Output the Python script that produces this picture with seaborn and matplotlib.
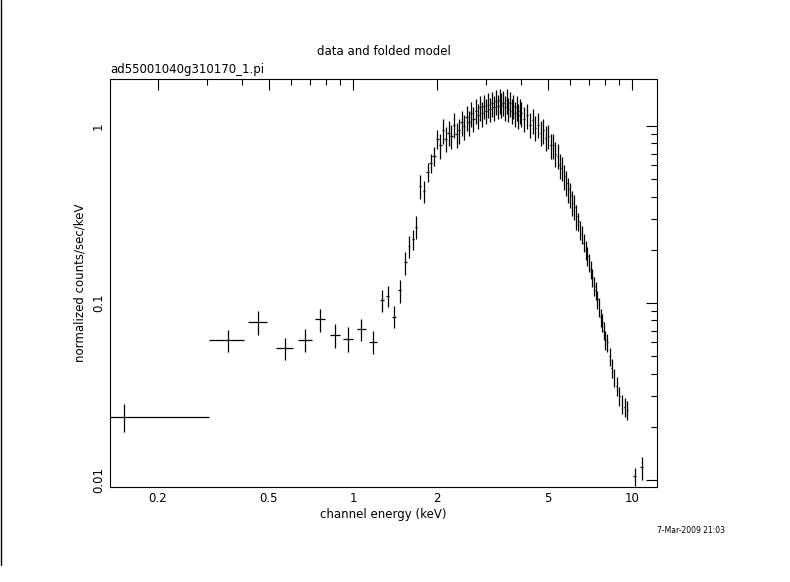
import matplotlib
matplotlib.use("Agg")
import matplotlib.pyplot as plt
import seaborn as sns
import numpy as np

# low-energy channels: centre, left/right half-widths, value, error
low_e    = [0.151, 0.356, 0.457, 0.57, 0.673, 0.762, 0.862, 0.96, 1.07, 1.18, 1.27, 1.33, 1.40, 1.47, 1.54, 1.59, 1.64, 1.68, 1.74, 1.80]
low_dl   = [0.06, 0.05, 0.035, 0.04, 0.04, 0.03, 0.035, 0.04, 0.04, 0.04, 0.02, 0.02, 0.02, 0.02, 0.015, 0.015, 0.015, 0.015, 0.015, 0.015]
low_dr   = [0.154, 0.05, 0.035, 0.04, 0.04, 0.03, 0.035, 0.04, 0.04, 0.04, 0.02, 0.02, 0.02, 0.02, 0.015, 0.015, 0.015, 0.015, 0.015, 0.015]
low_y    = [0.0228, 0.0618, 0.078, 0.0557, 0.062, 0.081, 0.066, 0.063, 0.071, 0.0603, 0.104, 0.11, 0.084, 0.118, 0.17, 0.21, 0.23, 0.27, 0.46, 0.43]
low_err  = [0.004, 0.009, 0.012, 0.008, 0.009, 0.012, 0.01, 0.01, 0.01, 0.009, 0.015, 0.015, 0.012, 0.018, 0.025, 0.03, 0.03, 0.04, 0.07, 0.06]

mid_e = [1.85,1.90,1.95,2.00,2.05,2.10,2.15,2.20,2.25,2.30,2.35,2.40,2.45,2.50,2.55,2.60,2.65,2.70,2.75,2.80,
         2.85,2.90,2.95,3.00,3.05,3.10,3.15,3.20,3.25,3.30,3.35,3.40,3.45,3.50,3.55,3.60,3.65,3.70,3.75,3.80,
         3.85,3.90,3.95,4.00,4.10,4.20,4.30,4.40,4.50,4.60,4.70,4.80,4.90,5.00,5.10,5.20,5.30,5.40,5.50,5.60,
         5.70,5.80,5.90,6.00,6.10,6.20,6.30,6.40,6.50,6.60,6.70,6.80,6.90,7.00,7.10,7.20,7.30,7.40,7.50,7.60,
         7.70,7.80,7.90,8.00,8.15,8.30,8.45,8.60,8.80,9.00,9.20,9.40,9.60,10.2,10.8]
mid_y = [0.55,0.62,0.68,0.85,0.78,0.95,0.85,0.92,0.88,1.02,0.90,0.95,1.05,1.00,1.12,1.05,1.18,1.10,1.22,1.15,
         1.28,1.18,1.30,1.22,1.32,1.25,1.35,1.28,1.38,1.30,1.40,1.32,1.36,1.28,1.40,1.25,1.35,1.22,1.30,1.18,
         1.28,1.15,1.22,1.18,1.10,1.15,1.02,1.08,0.98,1.02,0.92,0.95,0.86,0.88,0.78,0.78,0.70,0.68,0.60,0.58,
         0.52,0.48,0.44,0.41,0.37,0.35,0.31,0.29,0.26,0.245,0.22,0.20,0.185,0.17,0.155,0.14,0.125,0.118,0.105,0.095,
         0.083,0.078,0.070,0.062,0.060,0.050,0.043,0.038,0.034,0.030,0.027,0.026,0.025,0.0105,0.0118]
mid_frac = [0.12]*4 + [0.16]*63 + [0.12]*17 + [0.12]*9 + [0.12, 0.15]

energies = np.array(low_e + mid_e)
xerr = np.array([low_dl + [0.025]*93 + [0.12, 0.12], low_dr + [0.025]*93 + [0.12, 0.12]])
values = np.array(low_y + mid_y)
errors = np.array(low_err + [y*f for y, f in zip(mid_y, mid_frac)])

sns.set_theme(style="white")
plt.rcParams['font.family'] = ['DejaVu Sans']
fig = plt.figure(figsize=(7.9, 5.82), dpi=100)
ax = fig.add_axes([0.139, 0.163, 0.693, 0.701])
ax.errorbar(energies, values, xerr=xerr, yerr=errors, fmt='none', ecolor='black', elinewidth=0.9, capsize=0)
ax.set_xscale('log'); ax.set_yscale('log')
ax.set_xlim(0.1346, 12.29); ax.set_ylim(0.00913, 1.844)
xt = [0.2, 0.5, 1, 2, 5, 10]
ax.set_xticks(xt); ax.set_xticklabels(['0.2', '0.5', '1', '2', '5', '10'])
yt = [0.01, 0.1, 1]
ax.set_yticks(yt); ax.set_yticklabels(['0.01', '0.1', '1'], rotation=90, va='center')
ax.tick_params(which='both', direction='in', top=True, right=True, labelsize=8.5, color='black', labelcolor='black')
ax.tick_params(which='major', length=8, width=0.8)
ax.tick_params(which='minor', length=4, width=0.8)
for s in ax.spines.values():
    s.set_color('black'); s.set_linewidth(0.8)
ax.set_xlabel('channel energy (keV)', fontsize=8.5, labelpad=2, color='black')
ax.set_ylabel('normalized counts/sec/keV', fontsize=8.5, labelpad=4, color='black')
fig.text(0.4855, 0.905, 'data and folded model', ha='center', fontsize=8.5, color='black')
ax.text(0.0, 1.008, 'ad55001040g310170_1.pi', transform=ax.transAxes, ha='left', va='bottom', fontsize=8.5, color='black')
fig.text(0.918, 0.085, '7-Mar-2009 21:03', ha='right', fontsize=5.5, color='black')
fig.add_artist(plt.Line2D([0.001, 0.001], [0.03, 1.0], color='black', linewidth=1))
fig.savefig('out.png', dpi=100, facecolor='white')
